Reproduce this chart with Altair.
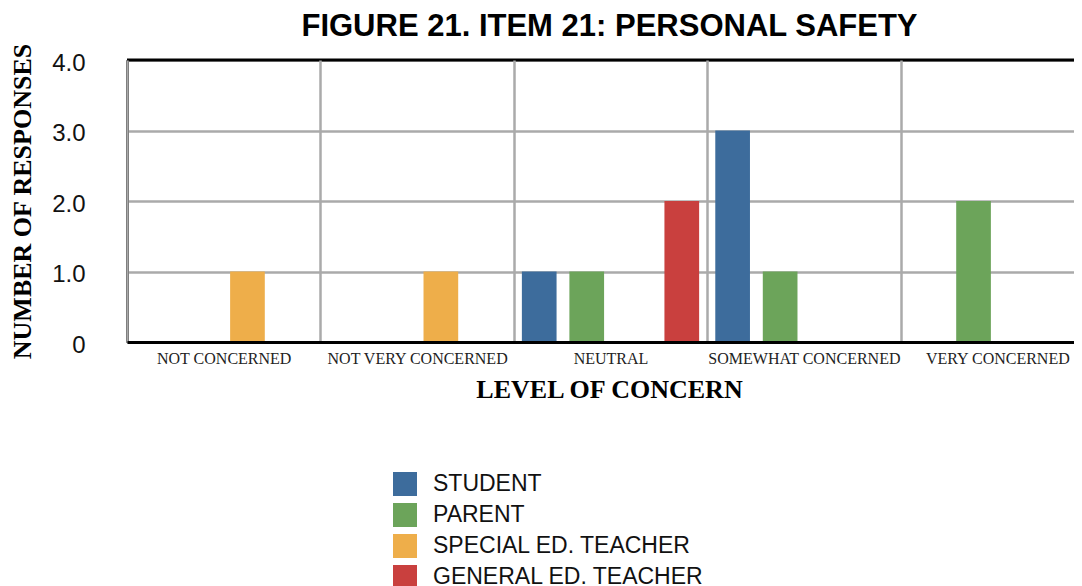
import altair as alt
import pandas as pd

categories = ["NOT CONCERNED", "NOT VERY CONCERNED", "NEUTRAL", "SOMEWHAT CONCERNED", "VERY CONCERNED"]
groups = ["STUDENT", "PARENT", "SPECIAL ED. TEACHER", "GENERAL ED. TEACHER"]
colors = ["#3d6c9c", "#6ca45a", "#eeae4a", "#c9403e"]

student = [0, 0, 1, 3, 0]
parent = [0, 0, 1, 1, 2]
special_ed = [1, 1, 0, 0, 0]
general_ed = [0, 0, 2, 0, 0]

series = [student, parent, special_ed, general_ed]
rows = []
for g, vals in zip(groups, series):
    for c, v in zip(categories, vals):
        rows.append({"category": c, "group": g, "value": v})
df = pd.DataFrame(rows)

W = 947
H = 282
RANGE_W = 967

bars = alt.Chart(df).mark_bar().encode(
    x=alt.X(
        "category:N",
        sort=categories,
        scale=alt.Scale(range=[0, RANGE_W], paddingInner=0, paddingOuter=0),
        axis=alt.Axis(
            title="LEVEL OF CONCERN",
            tickBand="extent",
            grid=True,
            gridColor="#aaaaaa",
            gridWidth=2.5,
            domainColor="black",
            domainWidth=3,
            ticks=False,
            labelAngle=0,
            labelLimit=0,
            labelFont="Liberation Serif",
            labelFontSize=16,
            labelColor="#222222",
            labelPadding=8,
            titleFont="Liberation Serif",
            titleFontSize=26,
            titleFontWeight="bold",
            titleColor="black",
            titleBaseline="alphabetic",
            titleY=55,
            titleX=482,
            zindex=1,
        ),
    ),
    xOffset=alt.XOffset(
        "group:N",
        sort=groups,
        scale=alt.Scale(paddingInner=0.27, paddingOuter=0.17),
    ),
    y=alt.Y(
        "value:Q",
        scale=alt.Scale(domain=[0, 4], nice=False),
        axis=alt.Axis(
            title="NUMBER OF RESPONSES",
            values=[0, 1, 2, 3, 4],
            labelExpr="datum.value == 0 ? '0' : format(datum.value, '.1f')",
            grid=True,
            gridColor="#aaaaaa",
            gridWidth=2.5,
            domainColor="black",
            domainWidth=3,
            ticks=False,
            labelFont="Liberation Sans",
            labelFontSize=24,
            labelColor="#111111",
            labelPadding=42,
            labelBaseline="middle",
            labelOffset=3,
            titleFont="Liberation Serif",
            titleFontSize=26,
            titleFontWeight="bold",
            titleColor="black",
            titleAngle=270,
            titleX=-105,
            titleY=141,
            titleAlign="center",
            titleBaseline="middle",
        ),
    ),
    color=alt.Color(
        "group:N",
        sort=groups,
        scale=alt.Scale(domain=groups, range=colors),
        legend=alt.Legend(
            title=None,
            orient="none",
            legendX=266,
            legendY=412,
            direction="vertical",
            symbolType="square",
            symbolSize=576,
            symbolStrokeWidth=0,
            symbolOpacity=1,
            labelFont="Liberation Sans",
            labelFontSize=23,
            labelColor="#111111",
            labelOffset=16,
            labelLimit=0,
            rowPadding=7,
            padding=0,
        ),
    ),
)

top_border = alt.Chart(pd.DataFrame({"a": [0]})).mark_rule(color="black", strokeWidth=3).encode(
    x=alt.value(0), x2=alt.value(RANGE_W), y=alt.value(0)
)

chart = alt.layer(bars, top_border).properties(
    width=W,
    height=H,
    title=alt.Title(
        "FIGURE 21. ITEM 21: PERSONAL SAFETY",
        font="Liberation Sans",
        fontSize=31,
        fontWeight="bold",
        color="black",
        anchor="middle",
        dx=9,
        offset=0,
    ),
    autosize=alt.AutoSizeParams(type="none"),
    padding={"left": 119, "top": 52, "right": 0, "bottom": 244},
).configure_view(strokeWidth=0)

chart.save("out.html", embed_options={"renderer": "svg", "actions": False})
